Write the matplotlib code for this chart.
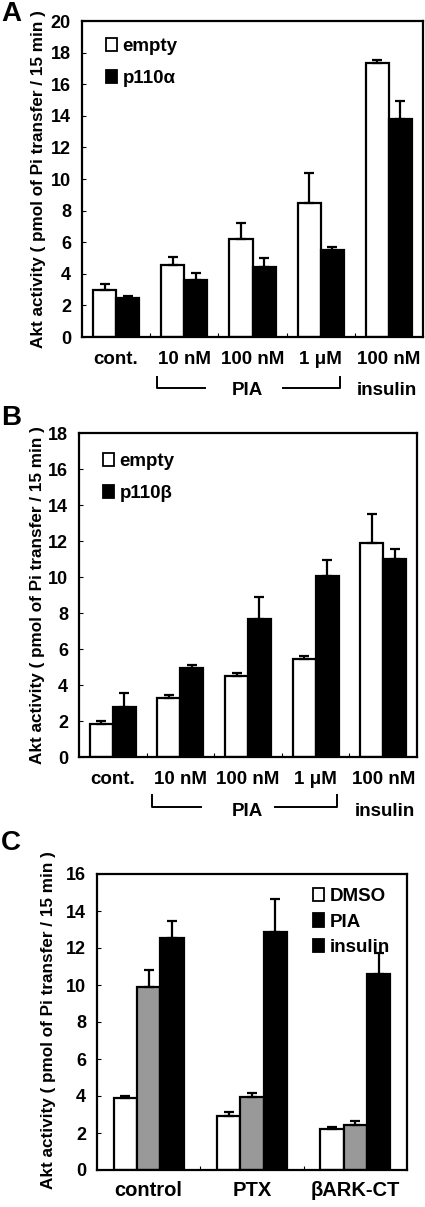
import matplotlib
matplotlib.use("Agg")
import matplotlib.pyplot as plt
import matplotlib.transforms as mtransforms
from matplotlib.patches import Patch
import numpy as np

plt.rcParams['font.family'] = ['Liberation Sans', 'DejaVu Sans']
plt.rcParams['font.weight'] = 'bold'

# ---------------- data ----------------
groups_ab = ['cont.', '10 nM', '100 nM', '1 \u03bcM', '100 nM']
a_empty = [3.0, 4.58, 6.19, 8.49, 17.36]
a_empty_err = [0.35, 0.5, 1.0, 1.9, 0.15]
a_p110a = [2.5, 3.59, 4.46, 5.51, 13.79]
a_p110a_err = [0.07, 0.45, 0.57, 0.17, 1.16]

b_empty = [1.86, 3.28, 4.49, 5.47, 11.87]
b_empty_err = [0.13, 0.19, 0.15, 0.13, 1.62]
b_p110b = [2.76, 4.92, 7.66, 10.07, 11.02]
b_p110b_err = [0.77, 0.18, 1.25, 0.86, 0.52]

groups_c = ['control', 'PTX', '\u03b2ARK-CT']
c_dmso = [3.87, 2.92, 2.2]
c_dmso_err = [0.13, 0.2, 0.14]
c_pia = [9.87, 3.95, 2.43]
c_pia_err = [0.94, 0.2, 0.22]
c_insulin = [12.52, 12.85, 10.58]
c_insulin_err = [0.96, 1.8, 1.13]

ylabel = 'Akt activity ( pmol of Pi transfer / 15 min )'

W, H = 425, 1207
fig = plt.figure(figsize=(W / 100, H / 100), dpi=100)


def make_ax(left, right, top, bottom):
    return fig.add_axes([left / W, 1 - bottom / H, (right - left) / W, (bottom - top) / H])


FS = 13.5
YFS = 13
LFS = 13.5
LW = 1.6
ekw = dict(elinewidth=1.6, capthick=1.6, capsize=3.6, ecolor='black')


def style(ax, ymax, ystep, n):
    ax.set_ylim(0, ymax)
    ax.set_yticks(np.arange(0, ymax + 0.01, ystep))
    ax.set_xlim(-0.5, n - 0.5)
    for s in ax.spines.values():
        s.set_linewidth(1.6)
    ax.tick_params(axis='y', direction='in', length=3, width=0.8, labelsize=YFS, pad=8)
    ax.tick_params(axis='x', which='major', length=0, labelsize=FS, pad=10)
    ax.set_xticks(np.arange(0.5, n - 0.5), minor=True)
    ax.tick_params(axis='x', which='minor', direction='in', length=3, width=0.8)
    for lab in ax.get_yticklabels() + ax.get_xticklabels():
        lab.set_fontweight('bold')


def ylab(xpix, ycen):
    fig.text(xpix / W, 1 - ycen / H, ylabel, rotation=90, ha='center', va='center',
             fontsize=12.3, fontweight='bold')


def bracket(ax, x0, x1, xg0, xg1, yline, ytop, xtxt, ytxt, xins):
    tr = mtransforms.blended_transform_factory(ax.transData, ax.transAxes)
    ax.plot([x0, x0, xg0], [ytop, yline, yline], color='black', lw=1.4, transform=tr, clip_on=False)
    ax.plot([xg1, x1, x1], [yline, yline, ytop], color='black', lw=1.4, transform=tr, clip_on=False)
    ax.text(xtxt, ytxt, 'PIA', transform=tr, ha='center', va='center', fontsize=FS, fontweight='bold')
    ax.text(xins, ytxt, 'insulin', transform=tr, ha='center', va='center', fontsize=FS, fontweight='bold')


# ---------------- Panel A ----------------
axA = make_ax(82, 423, 21, 337)
x = np.arange(len(groups_ab))
bw = 0.34
axA.bar(x - bw / 2, a_empty, bw, color='white', edgecolor='black', linewidth=LW,
        yerr=[np.zeros(len(x)), a_empty_err], error_kw=ekw, zorder=2)
axA.bar(x + bw / 2, a_p110a, bw, color='black', edgecolor='black', linewidth=LW,
        yerr=[np.zeros(len(x)), a_p110a_err], error_kw=ekw, zorder=2)
style(axA, 20, 2, 5)
axA.set_xticks(x, groups_ab)
for lab in axA.get_xticklabels():
    lab.set_fontweight('bold')
ylab(38.5, 179)
h = [Patch(facecolor='white', edgecolor='black', linewidth=1.3, label='empty'),
     Patch(facecolor='black', edgecolor='black', linewidth=1.3, label='p110\u03b1')]
axA.legend(handles=h, loc='upper left', bbox_to_anchor=(0.02, 1.0), frameon=False,
           prop=dict(size=LFS, weight='bold'), handlelength=0.6, handleheight=0.7,
           handletextpad=0.3, labelspacing=0.8)
bracket(axA, 0.60, 3.28, 1.3, 2.45, -0.161, -0.127, 1.93, -0.17, 3.97)
fig.text(1 / W, 1 - 14 / H, 'A', fontsize=20, fontweight='bold', ha='left', va='center')

# ---------------- Panel B ----------------
axB = make_ax(79, 417, 433, 757)
axB.bar(x - bw / 2, b_empty, bw, color='white', edgecolor='black', linewidth=LW,
        yerr=[np.zeros(len(x)), b_empty_err], error_kw=ekw, zorder=2)
axB.bar(x + bw / 2, b_p110b, bw, color='black', edgecolor='black', linewidth=LW,
        yerr=[np.zeros(len(x)), b_p110b_err], error_kw=ekw, zorder=2)
style(axB, 18, 2, 5)
axB.set_xticks(x, groups_ab)
for lab in axB.get_xticklabels():
    lab.set_fontweight('bold')
ylab(38, 595)
h = [Patch(facecolor='white', edgecolor='black', linewidth=1.3, label='empty'),
     Patch(facecolor='black', edgecolor='black', linewidth=1.3, label='p110\u03b2')]
axB.legend(handles=h, loc='upper left', bbox_to_anchor=(0.02, 0.99), frameon=False,
           prop=dict(size=LFS, weight='bold'), handlelength=0.6, handleheight=0.7,
           handletextpad=0.3, labelspacing=0.8)
bracket(axB, 0.58, 3.32, 1.3, 2.4, -0.154, -0.117, 1.99, -0.167, 4.03)
fig.text(1 / W, 1 - 418 / H, 'B', fontsize=20, fontweight='bold', ha='left', va='center')

# ---------------- Panel C ----------------
axC = make_ax(97, 407, 874, 1170)
xc = np.arange(len(groups_c))
bc = 0.226
axC.bar(xc - bc, c_dmso, bc, color='white', edgecolor='black', linewidth=LW,
        yerr=[np.zeros(len(xc)), c_dmso_err], error_kw=ekw, zorder=2)
axC.bar(xc, c_pia, bc, color='#999999', edgecolor='black', linewidth=LW,
        yerr=[np.zeros(len(xc)), c_pia_err], error_kw=ekw, zorder=2)
axC.bar(xc + bc, c_insulin, bc, color='black', edgecolor='black', linewidth=LW,
        yerr=[np.zeros(len(xc)), c_insulin_err], error_kw=ekw, zorder=2)
style(axC, 16, 2, 3)
axC.set_xticks(xc, groups_c)
axC.tick_params(axis='x', which='major', labelsize=14.5, pad=8)
for lab in axC.get_xticklabels():
    lab.set_fontweight('bold')
ylab(48.5, 1020)
h = [Patch(facecolor='white', edgecolor='black', linewidth=1.3, label='DMSO'),
     Patch(facecolor='black', edgecolor='black', linewidth=1.3, label='PIA'),
     Patch(facecolor='black', edgecolor='black', linewidth=1.3, label='insulin')]
axC.legend(handles=h, loc='upper right', bbox_to_anchor=(1.0, 1.01), frameon=False,
           prop=dict(size=LFS, weight='bold'), handlelength=0.6, handleheight=0.7,
           handletextpad=0.3, labelspacing=0.45)
fig.text(1 / W, 1 - 843 / H, 'C', fontsize=20, fontweight='bold', ha='left', va='center')

fig.savefig('out.png', dpi=100)
